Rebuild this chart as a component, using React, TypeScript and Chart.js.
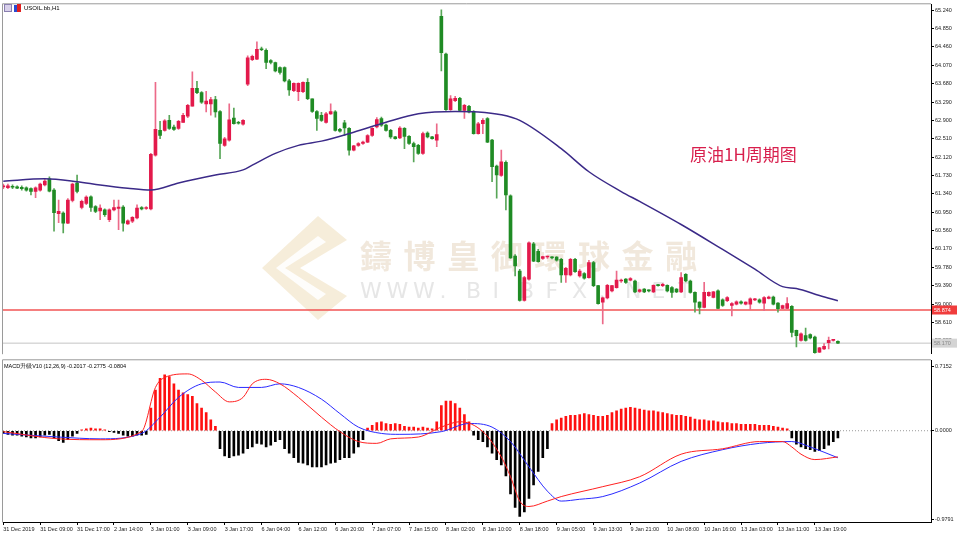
import React, { useEffect, useRef } from 'react';
import { Chart, registerables } from 'chart.js';
Chart.register(...registerables);

const xTickLabels = ['31 Dec 2019', '31 Dec 09:00', '31 Dec 17:00', '2 Jan 14:00', '3 Jan 01:00', '3 Jan 09:00', '3 Jan 17:00', '6 Jan 04:00', '6 Jan 12:00', '6 Jan 20:00', '7 Jan 07:00', '7 Jan 15:00', '8 Jan 02:00', '8 Jan 10:00', '8 Jan 18:00', '9 Jan 05:00', '9 Jan 13:00', '9 Jan 21:00', '10 Jan 08:00', '10 Jan 16:00', '13 Jan 03:00', '13 Jan 11:00', '13 Jan 19:00'];

const opens = [61.49, 61.47, 61.50, 61.49, 61.48, 61.47, 61.45, 61.39, 61.42, 61.53,
  61.66, 61.42, 60.92, 60.93, 60.72, 61.20, 61.57, 61.05, 61.14, 61.28,
  61.07, 60.98, 61.00, 60.79, 61.00, 61.03, 61.06, 60.70, 60.76, 60.83,
  61.05, 61.03, 61.02, 62.16, 62.69, 62.69, 62.90, 62.76, 62.73, 62.86,
  62.99, 63.20, 63.58, 63.49, 63.25, 63.25, 63.34, 63.09, 62.37, 62.48,
  62.95, 62.86, 62.82, 63.67, 64.19, 64.20, 64.41, 64.39, 64.17, 64.13,
  64.02, 64.02, 63.74, 63.53, 63.51, 63.51, 63.71, 63.36, 63.09, 63.01,
  62.86, 63.04, 63.08, 62.71, 62.85, 62.73, 62.27, 62.37, 62.41, 62.44,
  62.58, 62.76, 62.94, 62.80, 62.69, 62.55, 62.53, 62.73, 62.56, 62.41,
  62.37, 62.20, 62.63, 62.55, 62.48, 65.11, 64.31, 63.13, 63.32, 63.37,
  63.11, 63.20, 63.09, 62.62, 62.83, 62.94, 62.48, 61.93, 61.73, 62.01,
  61.30, 60.02, 59.70, 59.08, 59.53, 60.28, 60.12, 59.97, 60.00, 59.99,
  60.00, 59.95, 59.62, 59.62, 59.95, 59.60, 59.65, 59.56, 59.88, 59.39,
  59.04, 59.13, 59.28, 59.35, 59.49, 59.53, 59.51, 59.49, 59.27, 59.32,
  59.29, 59.26, 59.40, 59.39, 59.40, 59.35, 59.32, 59.26, 59.63, 59.49,
  59.25, 59.04, 58.93, 59.18, 59.14, 59.28, 59.09, 59.07, 58.97, 59.00,
  59.05, 59.00, 59.00, 59.09, 59.09, 59.02, 59.12, 59.15, 59.02, 58.91,
  58.91, 58.95, 58.44, 58.23, 58.33, 58.35, 58.30, 57.98, 58.05, 58.18,
  58.23, 58.21];

const highs = [61.55, 61.55, 61.53, 61.51, 61.51, 61.49, 61.47, 61.49, 61.57, 61.66,
  61.70, 61.45, 61.21, 60.96, 61.24, 61.57, 61.74, 61.21, 61.30, 61.30,
  61.09, 61.11, 61.02, 61.02, 61.21, 61.21, 61.09, 60.79, 60.86, 61.11,
  61.07, 61.07, 62.20, 63.71, 62.88, 62.92, 63.01, 62.80, 62.90, 63.05,
  63.24, 63.93, 63.73, 63.51, 63.52, 63.39, 63.41, 63.11, 62.54, 63.25,
  63.16, 62.88, 62.92, 64.27, 64.29, 64.57, 64.46, 64.42, 64.19, 64.14,
  64.04, 64.04, 63.77, 63.70, 63.70, 63.72, 63.79, 63.36, 63.11, 63.07,
  63.07, 63.25, 63.11, 62.73, 62.90, 62.75, 62.37, 62.43, 62.46, 62.60,
  62.75, 62.96, 62.97, 62.82, 62.71, 62.56, 62.77, 62.75, 62.58, 62.44,
  62.39, 62.65, 62.66, 62.56, 62.83, 65.25, 64.33, 63.43, 63.41, 63.39,
  63.24, 63.22, 63.11, 62.86, 62.94, 62.96, 62.50, 61.95, 62.27, 62.04,
  61.32, 60.05, 59.74, 59.59, 60.32, 60.31, 60.16, 60.02, 60.02, 60.01,
  60.01, 59.97, 59.78, 59.97, 59.97, 59.74, 59.67, 59.93, 59.91, 59.40,
  59.15, 59.42, 59.40, 59.70, 59.53, 59.54, 59.56, 59.51, 59.32, 59.33,
  59.30, 59.41, 59.42, 59.44, 59.41, 59.37, 59.33, 59.67, 59.65, 59.51,
  59.26, 59.05, 59.46, 59.26, 59.27, 59.30, 59.11, 59.16, 59.03, 59.07,
  59.07, 59.05, 59.13, 59.12, 59.11, 59.16, 59.17, 59.17, 59.03, 58.98,
  59.14, 58.97, 58.45, 58.39, 58.49, 58.37, 58.32, 58.08, 58.16, 58.30,
  58.25, 58.22];

const lows = [61.45, 61.45, 61.45, 61.45, 61.42, 61.40, 61.32, 61.26, 61.40, 61.51,
  61.38, 60.55, 60.73, 60.51, 60.71, 61.17, 61.36, 61.02, 61.11, 60.97,
  60.94, 60.79, 60.86, 60.75, 60.98, 60.58, 60.55, 60.69, 60.73, 60.81,
  61.00, 61.01, 61.00, 62.14, 62.51, 62.67, 62.71, 62.69, 62.71, 62.86,
  62.96, 63.20, 63.47, 63.26, 63.08, 63.01, 62.97, 62.09, 62.35, 62.46,
  62.82, 62.82, 62.80, 63.64, 64.17, 64.19, 64.38, 64.00, 64.10, 63.93,
  63.88, 63.72, 63.43, 63.51, 63.32, 63.49, 63.34, 63.07, 62.69, 62.88,
  62.84, 63.03, 62.67, 62.65, 62.58, 62.16, 62.25, 62.35, 62.39, 62.43,
  62.56, 62.74, 62.77, 62.67, 62.52, 62.50, 62.51, 62.30, 62.39, 62.02,
  62.18, 62.18, 62.53, 62.50, 62.34, 63.95, 63.11, 63.11, 63.30, 63.09,
  62.94, 63.06, 62.61, 62.61, 62.62, 62.43, 61.60, 61.25, 61.71, 61.00,
  59.97, 59.60, 59.06, 59.06, 59.51, 59.90, 59.89, 59.95, 59.97, 59.96,
  59.91, 59.46, 59.46, 59.60, 59.67, 59.57, 59.53, 59.55, 59.37, 59.00,
  58.58, 59.11, 59.26, 59.34, 59.46, 59.44, 59.49, 59.24, 59.25, 59.24,
  59.26, 59.24, 59.38, 59.37, 59.26, 59.14, 59.24, 59.24, 59.47, 59.23,
  58.83, 58.79, 58.92, 59.16, 59.13, 58.90, 58.95, 59.05, 58.75, 58.98,
  59.00, 58.98, 58.88, 59.07, 59.02, 58.86, 59.11, 58.98, 58.83, 58.90,
  58.90, 58.30, 58.09, 58.21, 58.21, 58.26, 57.95, 57.97, 58.03, 58.05,
  58.21, 58.16];

const closes = [61.51, 61.51, 61.48, 61.46, 61.45, 61.42, 61.39, 61.47, 61.55, 61.61,
  61.40, 60.94, 60.97, 60.72, 61.21, 61.55, 61.39, 61.18, 61.27, 61.05,
  60.97, 61.04, 60.90, 61.00, 61.05, 61.06, 60.72, 60.77, 60.84, 61.04,
  61.02, 61.05, 62.18, 62.71, 62.58, 62.89, 62.73, 62.71, 62.88, 63.01,
  63.22, 63.58, 63.49, 63.29, 63.31, 63.34, 63.08, 62.41, 62.51, 62.91,
  62.83, 62.84, 62.90, 64.23, 64.26, 64.41, 64.40, 64.13, 64.13, 63.95,
  63.92, 63.74, 63.55, 63.69, 63.69, 63.71, 63.36, 63.09, 62.94, 62.90,
  63.04, 63.09, 62.69, 62.67, 62.74, 62.27, 62.36, 62.41, 62.44, 62.58,
  62.73, 62.92, 62.80, 62.69, 62.55, 62.51, 62.74, 62.56, 62.41, 62.34,
  62.20, 62.62, 62.55, 62.51, 62.60, 64.34, 63.13, 63.36, 63.37, 63.11,
  63.22, 63.08, 62.62, 62.83, 62.90, 62.44, 61.92, 61.74, 62.02, 61.32,
  59.98, 59.81, 59.08, 59.56, 60.30, 59.91, 59.90, 60.01, 60.01, 59.98,
  59.93, 59.62, 59.76, 59.95, 59.69, 59.70, 59.55, 59.88, 59.39, 59.01,
  59.13, 59.40, 59.39, 59.51, 59.51, 59.46, 59.54, 59.26, 59.30, 59.26,
  59.28, 59.40, 59.39, 59.42, 59.28, 59.25, 59.26, 59.56, 59.49, 59.25,
  59.04, 58.93, 59.25, 59.25, 59.26, 58.91, 58.97, 59.14, 59.01, 59.05,
  59.02, 59.04, 59.11, 59.10, 59.04, 59.14, 59.15, 59.00, 58.90, 58.97,
  59.01, 58.40, 58.33, 58.37, 58.23, 58.28, 57.97, 58.07, 58.10, 58.23,
  58.23, 58.17];

const maIndex = [0, 9, 16, 21, 27, 32, 38, 46, 52, 54, 59, 64, 69, 76, 83, 90, 98, 103, 108, 112, 121, 127, 134, 138, 147, 156, 163, 169, 172, 177, 181];
const maValues = [61.61, 61.66, 61.60, 61.53, 61.46, 61.42, 61.57, 61.74, 61.85, 61.95, 62.20, 62.37, 62.46, 62.65, 62.86, 63.04, 63.09, 63.08, 63.02, 62.90, 62.30, 61.81, 61.39, 61.18, 60.69, 60.16, 59.74, 59.37, 59.33, 59.18, 59.07];

const macdHist = [-0.03, -0.04, -0.05, -0.05, -0.06, -0.07, -0.08, -0.08, -0.07, -0.05, -0.04, -0.08, -0.11, -0.13, -0.10,
  -0.06, -0.03, 0.01, 0.02, 0.03, 0.02, 0.02, 0.01, -0.01, -0.02, -0.03, -0.05, -0.06, -0.06, -0.05, -0.05, -0.04,
  0.25, 0.45, 0.58, 0.62, 0.60, 0.52, 0.45, 0.42, 0.40, 0.38, 0.30, 0.25, 0.20, 0.12, 0.05,
  -0.20, -0.28, -0.30, -0.28, -0.27, -0.25,
  -0.20, -0.18, -0.14, -0.15, -0.18, -0.16, -0.12, -0.10,
  -0.20, -0.25, -0.30, -0.35, -0.36, -0.38, -0.40, -0.40, -0.40, -0.38, -0.36, -0.35, -0.32, -0.30, -0.30, -0.25, -0.18, -0.10,
  0.03, 0.06, 0.09, 0.10, 0.08, 0.07, 0.08, 0.07, 0.05, 0.04, 0.04, 0.03, 0.04, 0.03, 0.02,
  0.10, 0.28, 0.33, 0.33, 0.30, 0.25, 0.18, 0.10,
  -0.05, -0.10, -0.12, -0.18, -0.25, -0.32, -0.38, -0.50, -0.70, -0.85, -0.95, -0.90, -0.75, -0.60, -0.45, -0.30, -0.20,
  0.08, 0.12, 0.14, 0.16, 0.17, 0.17, 0.18, 0.19, 0.18, 0.17,
  0.16, 0.16, 0.17, 0.20, 0.22, 0.24, 0.25, 0.26, 0.25, 0.24,
  0.23, 0.22, 0.22, 0.21, 0.20, 0.19, 0.18, 0.17, 0.17, 0.16,
  0.15, 0.13, 0.12, 0.12, 0.11, 0.11, 0.10, 0.09, 0.09, 0.08,
  0.08, 0.07, 0.07, 0.07, 0.07, 0.06, 0.06, 0.06, 0.05, 0.04,
  0.03, 0.02,
  -0.08, -0.15, -0.18, -0.20, -0.21, -0.23, -0.22, -0.20, -0.16, -0.12, -0.08];

const macdIndex = [0, 12, 21, 30, 33, 35, 40, 43, 46, 49, 52, 54, 57, 60, 64, 69, 73, 77, 81, 84, 90, 95, 99, 104, 108, 110, 112, 114, 118, 121, 130, 138, 147, 156, 164, 169, 171, 173, 176, 181];
const macdValues = [-0.01, -0.09, -0.10, -0.01, 0.48, 0.59, 0.63, 0.56, 0.43, 0.32, 0.37, 0.52, 0.57, 0.52, 0.37, 0.15, -0.01, -0.12, -0.14, -0.09, -0.07, 0.04, 0.10, -0.01, -0.29, -0.51, -0.78, -0.84, -0.78, -0.73, -0.62, -0.51, -0.26, -0.20, -0.12, -0.12, -0.18, -0.26, -0.32, -0.29];
const signalIndex = [0, 12, 21, 30, 34, 38, 43, 47, 51, 56, 60, 64, 69, 73, 77, 82, 86, 95, 101, 106, 110, 114, 118, 121, 125, 130, 138, 147, 156, 164, 171, 175, 181];
const signalValues = [-0.03, -0.07, -0.09, -0.03, 0.15, 0.37, 0.52, 0.54, 0.48, 0.48, 0.52, 0.48, 0.35, 0.19, 0.04, -0.03, -0.04, -0.01, 0.08, 0.04, -0.12, -0.40, -0.67, -0.78, -0.76, -0.73, -0.58, -0.34, -0.21, -0.14, -0.12, -0.18, -0.30];

const priceTicks = [65.24, 64.85, 64.46, 64.07, 63.68, 63.29, 62.90, 62.51, 62.12, 61.73, 61.34, 60.95, 60.56, 60.17, 59.78, 59.39, 59.00, 58.61, 58.22];
const macdTicks = [0.7152, 0, -0.9791];
const levelLine = 58.874;
const macdTitle = 'MACD升级V10 (12,26,9) -0.2017 -0.2775 -0.0804';
const symbolTitle = 'USOIL.bb,H1';
const noteText = '原油1H周期图';

const X_MIN = -0.065;
const X_MAX = 201.19;
const AX_FONT = '"Liberation Sans", Arial, sans-serif';
const UP = '#e3194b';
const DOWN = '#1f8b24';
const UP_WICK = '#ec6a89';
const DOWN_WICK = '#58a658';

const idx = closes.map((_, i) => i);
const isUp = idx.map((i) => closes[i] >= opens[i]);

const framePlugin = (drawExtra) => ({
  id: 'frame' + Math.random().toString(36).slice(2),
  beforeDatasetsDraw(chart) {
    if (drawExtra.before) drawExtra.before(chart);
  },
  afterDraw(chart) {
    const { ctx, chartArea: a } = chart;
    ctx.save();
    ctx.strokeStyle = '#9a9a9a';
    ctx.lineWidth = 1;
    ctx.beginPath();
    ctx.moveTo(a.left - 0.5, a.bottom + 0.5);
    ctx.lineTo(a.left - 0.5, a.top - 0.5);
    ctx.lineTo(a.right, a.top - 0.5);
    ctx.stroke();
    ctx.restore();
    if (drawExtra.after) drawExtra.after(chart);
  },
});

function drawWatermark(chart) {
  const { ctx } = chart;
  ctx.save();
  ctx.fillStyle = 'rgba(236, 214, 172, 0.45)';
  ctx.beginPath();
  ctx.moveTo(318, 216); ctx.lineTo(347, 240); ctx.lineTo(300, 268); ctx.lineTo(347, 296); ctx.lineTo(318, 320); ctx.lineTo(262, 268);
  ctx.closePath();
  ctx.fill();
  ctx.fillStyle = 'rgba(255, 255, 255, 0.9)';
  ctx.beginPath();
  ctx.moveTo(318, 236); ctx.lineTo(326, 242); ctx.lineTo(285, 268); ctx.lineTo(326, 294); ctx.lineTo(318, 300); ctx.lineTo(276, 268);
  ctx.closePath();
  ctx.fill();
  const chars = Array.from('鑄博皇御環球金融');
  ctx.fillStyle = 'rgba(228, 210, 186, 0.5)';
  ctx.font = '600 32px "Noto Sans CJK TC"';
  ctx.textBaseline = 'middle';
  ctx.textAlign = 'left';
  chars.forEach((c, k) => ctx.fillText(c, 360 + k * 43.6, 256));
  ctx.fillStyle = 'rgba(205, 205, 205, 0.5)';
  ctx.font = '22px "DejaVu Sans"';
  Array.from('WWW.BIBFX.NET').forEach((c, k) => ctx.fillText(c, 360 + k * 26.5, 292));
  ctx.restore();
}

function drawPriceExtras(chart) {
  const { ctx, scales } = chart;
  const y = scales.y;
  const a = chart.chartArea;
  ctx.save();
  // title icons
  ctx.fillStyle = '#d8d0ea';
  ctx.fillRect(4, 4, 8, 8);
  ctx.strokeStyle = '#8a80b0';
  ctx.strokeRect(4.5, 4.5, 7, 7);
  ctx.fillStyle = '#2a4bd0';
  ctx.fillRect(14, 5, 3, 7);
  ctx.fillStyle = '#e02020';
  ctx.fillRect(17, 4, 4, 8);
  ctx.fillStyle = '#000';
  ctx.font = `6px ${AX_FONT}`;
  ctx.textBaseline = 'middle';
  ctx.textAlign = 'left';
  ctx.fillText(symbolTitle, 24, 8.5);
  // annotation
  ctx.fillStyle = '#d81e4c';
  ctx.font = '17px "Noto Sans CJK SC"';
  ctx.fillText(noteText, 690, 155);
  // level label
  const ly = y.getPixelForValue(levelLine);
  ctx.fillStyle = '#f03c3c';
  ctx.fillRect(a.right + 1, ly - 4.5, 25, 9);
  ctx.fillStyle = '#fff';
  ctx.font = `5.5px ${AX_FONT}`;
  ctx.fillText(levelLine.toFixed(3), a.right + 3, ly);
  // last price label
  const last = closes[closes.length - 1];
  const py = y.getPixelForValue(last);
  ctx.fillStyle = '#d4d4d4';
  ctx.fillRect(a.right + 1, py - 4.5, 25, 9);
  ctx.fillStyle = '#888';
  ctx.fillText(last.toFixed(3), a.right + 3, py);
  ctx.restore();
}

function drawMacdExtras(chart) {
  const { ctx } = chart;
  ctx.save();
  ctx.fillStyle = '#000';
  ctx.font = `5.5px ${AX_FONT}`;
  ctx.textBaseline = 'middle';
  ctx.textAlign = 'left';
  ctx.fillText(macdTitle, 4, 10);
  ctx.restore();
}

const axisFont = { family: AX_FONT, size: 5.5 };

export default function App() {
  const priceRef = useRef(null);
  const macdRef = useRef(null);

  useEffect(() => {
    document.body.style.margin = '0';
    const lastPrice = closes[closes.length - 1];
    const priceChart = new Chart(priceRef.current, {
      type: 'bar',
      data: {
        datasets: [
          {
            type: 'line',
            data: [{ x: X_MIN, y: levelLine }, { x: X_MAX, y: levelLine }],
            borderColor: '#f25555',
            borderWidth: 1.5,
            pointRadius: 0,
            order: 5,
          },
          {
            type: 'line',
            data: [{ x: X_MIN, y: lastPrice }, { x: X_MAX, y: lastPrice }],
            borderColor: '#c4c4c4',
            borderWidth: 1,
            pointRadius: 0,
            order: 5,
          },
          {
            type: 'bar',
            data: idx.map((i) => ({ x: i, y: [lows[i], highs[i]] })),
            backgroundColor: idx.map((i) => (isUp[i] ? UP_WICK : DOWN_WICK)),
            barThickness: 1,
            grouped: false,
            minBarLength: 1,
            order: 3,
          },
          {
            type: 'bar',
            data: idx.map((i) => ({ x: i, y: [Math.min(opens[i], closes[i]), Math.max(opens[i], closes[i])] })),
            backgroundColor: idx.map((i) => (isUp[i] ? UP : DOWN)),
            barThickness: 3,
            grouped: false,
            minBarLength: 1,
            order: 2,
          },
          {
            type: 'line',
            data: maIndex.map((x, k) => ({ x, y: maValues[k] })),
            borderColor: '#3b2a88',
            borderWidth: 1.5,
            pointRadius: 0,
            cubicInterpolationMode: 'monotone',
            order: 1,
          },
        ],
      },
      options: {
        responsive: false,
        animation: false,
        devicePixelRatio: 1,
        events: [],
        layout: { padding: { left: 3, right: 0, top: 3, bottom: 3 } },
        plugins: { legend: { display: false }, tooltip: { enabled: false } },
        scales: {
          x: { type: 'linear', min: X_MIN, max: X_MAX, offset: false, display: false, grid: { offset: false } },
          y: {
            position: 'right',
            min: 57.946,
            max: 65.366,
            beginAtZero: false,
            afterBuildTicks: (s) => { s.ticks = priceTicks.map((v) => ({ value: v })); },
            afterFit: (s) => { s.width = 29; },
            grid: { drawOnChartArea: false, tickLength: 3, color: '#000' },
            border: { display: true, color: '#000' },
            ticks: { padding: 1, autoSkip: false, font: axisFont, color: '#222', callback: (v) => Number(v).toFixed(3) },
          },
        },
      },
      plugins: [framePlugin({ before: drawWatermark, after: drawPriceExtras })],
    });

    const macdChart = new Chart(macdRef.current, {
      type: 'bar',
      data: {
        datasets: [
          {
            type: 'line',
            data: [{ x: X_MIN, y: 0 }, { x: X_MAX, y: 0 }],
            borderColor: '#9a9a9a',
            borderWidth: 1,
            borderDash: [1, 2],
            pointRadius: 0,
            order: 5,
          },
          {
            type: 'bar',
            data: idx.map((i) => ({ x: i, y: macdHist[i] })),
            backgroundColor: idx.map((i) => (macdHist[i] >= 0 ? '#ff1010' : '#000000')),
            barThickness: 2,
            grouped: false,
            order: 3,
          },
          {
            type: 'line',
            data: macdIndex.map((x, k) => ({ x, y: macdValues[k] })),
            borderColor: '#ff2020',
            borderWidth: 1,
            pointRadius: 0,
            cubicInterpolationMode: 'monotone',
            order: 1,
          },
          {
            type: 'line',
            data: signalIndex.map((x, k) => ({ x, y: signalValues[k] })),
            borderColor: '#2a2aff',
            borderWidth: 1,
            pointRadius: 0,
            cubicInterpolationMode: 'monotone',
            order: 2,
          },
        ],
      },
      options: {
        responsive: false,
        animation: false,
        devicePixelRatio: 1,
        events: [],
        layout: { padding: { left: 3, right: 0, top: 2, bottom: 0 } },
        plugins: { legend: { display: false }, tooltip: { enabled: false } },
        scales: {
          x: {
            type: 'linear',
            min: X_MIN,
            max: X_MAX,
            offset: false,
            position: 'bottom',
            afterBuildTicks: (s) => { s.ticks = xTickLabels.map((_, k) => ({ value: k * 8 })); },
            afterFit: (s) => { s.height = 14; },
            grid: { drawOnChartArea: false, tickLength: 3, color: '#000', offset: false },
            border: { display: true, color: '#000' },
            ticks: {
              align: 'start',
              maxRotation: 0,
              minRotation: 0,
              autoSkip: false,
              padding: 1,
              font: axisFont,
              color: '#222',
              callback: (v) => xTickLabels[Math.round(Number(v) / 8)] ?? '',
            },
          },
          y: {
            position: 'right',
            min: -1.0119,
            max: 0.7808,
            beginAtZero: false,
            afterBuildTicks: (s) => { s.ticks = macdTicks.map((v) => ({ value: v })); },
            afterFit: (s) => { s.width = 29; },
            grid: { drawOnChartArea: false, tickLength: 3, color: '#000' },
            border: { display: true, color: '#000' },
            ticks: { padding: 1, autoSkip: false, font: axisFont, color: '#222', callback: (v) => Number(v).toFixed(4) },
          },
        },
      },
      plugins: [framePlugin({ after: drawMacdExtras })],
    });

    return () => {
      priceChart.destroy();
      macdChart.destroy();
    };
  }, []);

  return (
    <div style={{ position: 'relative', width: 960, height: 536, background: '#fff', overflow: 'hidden' }}>
      <canvas ref={priceRef} width={960} height={358} style={{ position: 'absolute', left: 0, top: 0, width: 960, height: 358 }} />
      <canvas ref={macdRef} width={960} height={180} style={{ position: 'absolute', left: 0, top: 356, width: 960, height: 180 }} />
    </div>
  );
}
